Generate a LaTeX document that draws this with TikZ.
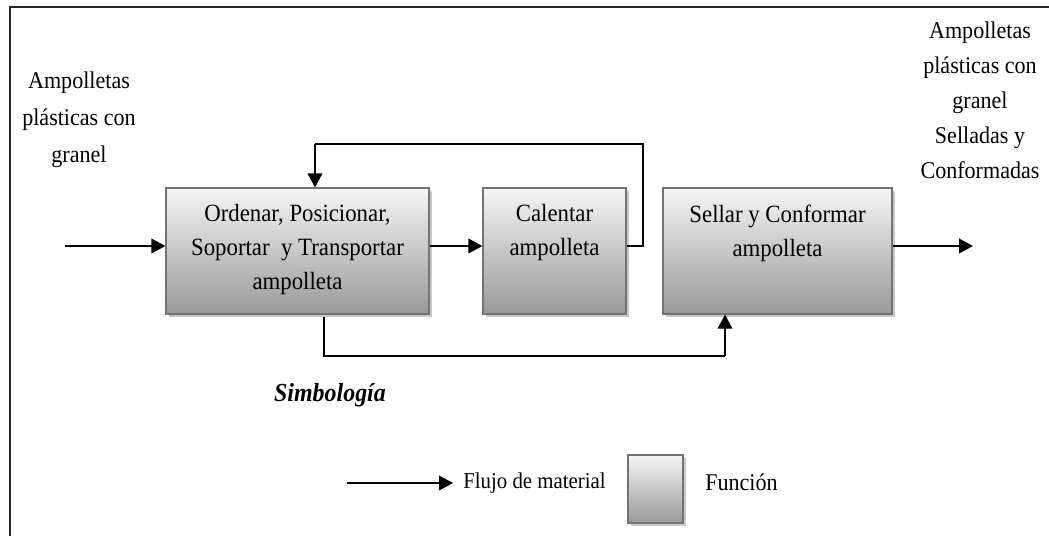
\documentclass[tikz,border=0pt]{standalone}
\usepackage{fontspec}
\setmainfont{Liberation Serif}[FakeStretch=0.92]
\usetikzlibrary{positioning,shadows,arrows.meta}

\begin{document}
\begin{tikzpicture}[x=0.75pt,y=-0.75pt,
        fbox/.style={draw=black!55, line width=0.9pt, inner sep=0pt,
            top color=black!4, bottom color=black!40,
            drop shadow={shadow xshift=2.2pt, shadow yshift=-2.2pt, fill=black!22, opacity=1}},
        btext/.style={align=center, inner sep=0pt, font=\fontsize{18.6}{25.5}\selectfont},
        ltext/.style={inner sep=0pt, font=\fontsize{18}{24}\selectfont},
        flow/.style={line width=1.2pt, -{Triangle[length=10.5pt,width=11pt]}}]
        \useasboundingbox (0,0) rectangle (1049,536);
        \draw[line width=1.6pt, black!85] (10,536) -- (10,7) -- (1049,7);
        \node[fbox, minimum width=197.25pt, minimum height=94.5pt] (b1) at (297.5,251) {};
        \node[fbox, minimum width=107.25pt, minimum height=94.5pt] (b2) at (554.5,251) {};
        \node[fbox, minimum width=171.75pt, minimum height=94.5pt] (b3) at (777.5,251) {};
        \node[btext, below=12.75pt of b1.north] (t1) {Ordenar, Posicionar,\\Soportar\ \ y Transportar\\ampolleta};
        \node[btext, below=12.75pt of b2.north] (t2) {Calentar\\ampolleta};
        \node[btext, below=12.75pt of b3.north] (t3) {Sellar y Conformar\\ampolleta};
        \node[ltext, align=center, anchor=north, font=\fontsize{18}{27.75}\selectfont] (src) at (79,72) {Ampolletas\\plásticas con\\granel};
        \node[ltext, align=center, anchor=north, font=\fontsize{18}{26.25}\selectfont] (dst) at (980,22) {Ampolletas\\plásticas con\\granel\\Selladas y\\Conformadas};
        \coordinate (in) at (65,246);
        \coordinate (out) at (973,246);
        \coordinate (fbr) at (643,144);
        \coordinate (fbl) at (315,144);
        \coordinate (bl) at (324,356);
        \coordinate (br) at (725,356);
        \draw[flow] (in) -- (in -| b1.west);
        \draw[flow] ([yshift=3.75pt]b1.east) -- ([yshift=3.75pt]b2.west);
        \draw[line width=1.2pt] ([yshift=3.75pt]b2.east) -| (fbr) -- (fbl);
        \draw[flow] (fbl) -- (fbl |- b1.north);
        \draw[flow] ([yshift=3.75pt]b3.east) -- (out);
        \draw[line width=1.2pt] ([yshift=-1.5pt]bl |- b1.south) -- (bl) -- (br);
        \draw[flow] (br) -- (br |- b3.south);
        \node[ltext, font=\fontsize{19.5}{24}\selectfont\bfseries\itshape] (simb) at (330,395) {Simbología};
        \coordinate (la) at (347,483);
        \node[ltext, anchor=west, inner xsep=7.5pt, font=\fontsize{17}{24}\selectfont] (flujo) at (453,483) {Flujo de material};
        \draw[flow] (la) -- (flujo);
        \node[fbox, minimum width=41.25pt, minimum height=51pt] (lbox) at (655.5,489) {};
        \node[ltext, anchor=west] (func) at (705,482) {Función};
\end{tikzpicture}
\end{document}
